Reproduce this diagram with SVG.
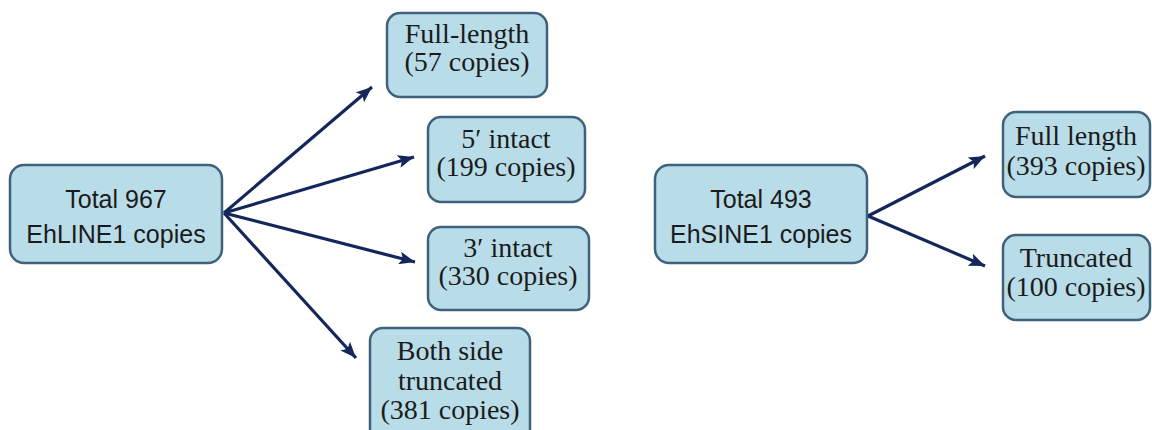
<svg xmlns="http://www.w3.org/2000/svg" width="1152" height="430" viewBox="0 0 1152 430">
<style>
.box{fill:#b9dce9;stroke:#40617c;stroke-width:2.5}
.sans{font-family:"Liberation Sans",Arial,sans-serif;font-size:25px;fill:#1b1b1b;text-anchor:middle}
.serif{font-family:"Liberation Serif","Times New Roman",serif;font-size:28px;fill:#1b1b1b;text-anchor:middle}
.conn{stroke:#14275a;stroke-width:3.2;fill:none;marker-end:url(#ah)}
</style>
<defs>
<marker id="ah" markerUnits="userSpaceOnUse" markerWidth="17" markerHeight="13" refX="16" refY="6.5" orient="auto">
<path d="M0,0 L16,6.5 L0,13 L3.5,6.5 Z" fill="#14275a"/>
</marker>
</defs>
<rect width="1152" height="430" fill="#ffffff"/>
<g id="connectors">
<line class="conn" x1="224" y1="213" x2="372" y2="87"/>
<line class="conn" x1="224" y1="213" x2="414" y2="157"/>
<line class="conn" x1="224" y1="213" x2="415" y2="262"/>
<line class="conn" x1="224" y1="213" x2="356" y2="358"/>
<line class="conn" x1="868" y1="216" x2="985" y2="156"/>
<line class="conn" x1="868" y1="216" x2="985" y2="266"/>
</g>
<g id="total967">
<rect class="box" x="10" y="165" width="212" height="98" rx="14"/>
<text class="sans" x="116" y="208">Total 967</text>
<text class="sans" x="116" y="243">EhLINE1 copies</text>
</g>
<g id="fulllength57">
<rect class="box" x="387" y="13" width="160" height="84" rx="13"/>
<text class="serif" x="467" y="43">Full-length</text>
<text class="serif" x="467" y="71">(57 copies)</text>
</g>
<g id="intact5">
<rect class="box" x="428" y="117" width="157" height="85" rx="13"/>
<text class="serif" x="506" y="148">5′ intact</text>
<text class="serif" x="506" y="176">(199 copies)</text>
</g>
<g id="intact3">
<rect class="box" x="428" y="227" width="161" height="83" rx="13"/>
<text class="serif" x="508" y="257">3′ intact</text>
<text class="serif" x="508" y="285">(330 copies)</text>
</g>
<g id="bothside">
<rect class="box" x="370" y="328" width="160" height="115" rx="13"/>
<text class="serif" x="450" y="360">Both side</text>
<text class="serif" x="450" y="390">truncated</text>
<text class="serif" x="450" y="419">(381 copies)</text>
</g>
<g id="total493">
<rect class="box" x="655" y="165" width="212" height="98" rx="14"/>
<text class="sans" x="761" y="208">Total 493</text>
<text class="sans" x="761" y="243">EhSINE1 copies</text>
</g>
<g id="fulllength393">
<rect class="box" x="1003" y="112" width="147" height="85" rx="13"/>
<text class="serif" x="1076" y="145">Full length</text>
<text class="serif" x="1076" y="175">(393 copies)</text>
</g>
<g id="truncated100">
<rect class="box" x="1003" y="235" width="147" height="85" rx="13"/>
<text class="serif" x="1076" y="267">Truncated</text>
<text class="serif" x="1076" y="296">(100 copies)</text>
</g>
</svg>
